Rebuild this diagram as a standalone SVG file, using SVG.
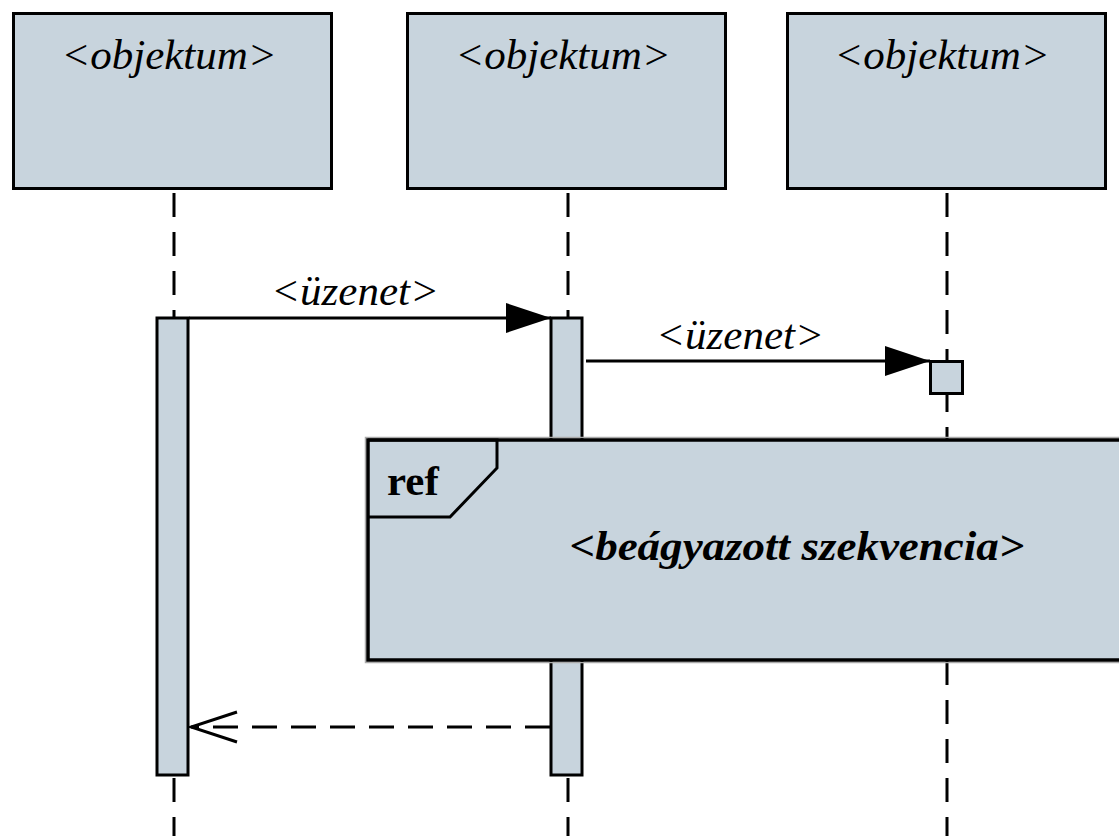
<svg xmlns="http://www.w3.org/2000/svg" width="1119" height="836" viewBox="0 0 1119 836">
<style>
.box{fill:#c8d4dd;stroke:#000;stroke-width:3}
.life{stroke:#000;stroke-width:3;stroke-dasharray:24 15;fill:none}
.msg{stroke:#000;stroke-width:3;fill:none}
.ret{stroke:#000;stroke-width:3;fill:none;stroke-dasharray:25 14}
text{font-family:'Liberation Serif','DejaVu Serif',serif;font-size:43px;fill:#000}
.t{font-style:italic}
.b{font-weight:bold}
.bi{font-weight:bold;font-style:italic}
</style>
<defs>
<marker id="filled" markerUnits="userSpaceOnUse" markerWidth="46" markerHeight="32" refX="45" refY="16" orient="auto">
<path d="M0,1 L45,16 L0,31 Z" fill="#000"/>
</marker>
<marker id="open" markerUnits="userSpaceOnUse" markerWidth="52" markerHeight="36" refX="49" refY="18" orient="auto">
<path d="M3,3 L49,18 L3,33" fill="none" stroke="#000" stroke-width="3"/>
</marker>
</defs>
<g id="lifelines">
<line class="life" x1="174" y1="193" x2="174" y2="836"/>
<line class="life" x1="568" y1="193" x2="568" y2="836"/>
<line class="life" x1="947" y1="193" x2="947" y2="836"/>
</g>
<g id="obj1"><rect class="box" x="13.5" y="13.5" width="318" height="175"/><text class="t" x="169" y="69" text-anchor="middle">&lt;objektum&gt;</text></g>
<g id="obj2"><rect class="box" x="407.5" y="13.5" width="318" height="175"/><text class="t" x="563" y="69" text-anchor="middle">&lt;objektum&gt;</text></g>
<g id="obj3"><rect class="box" x="787.5" y="13.5" width="318" height="175"/><text class="t" x="942" y="69" text-anchor="middle">&lt;objektum&gt;</text></g>
<g id="act1"><rect class="box" x="157" y="318" width="31" height="457"/></g>
<g id="act2"><rect class="box" x="551" y="318" width="31" height="457"/></g>
<g id="act3"><rect class="box" x="930.5" y="361.5" width="32" height="32"/></g>
<g id="connectors">
<line class="msg" x1="189" y1="318" x2="551" y2="318" marker-end="url(#filled)"/>
<text class="t" x="355" y="305" text-anchor="middle">&lt;üzenet&gt;</text>
<line class="msg" x1="586" y1="361" x2="930" y2="361" marker-end="url(#filled)"/>
<text class="t" x="740" y="349" text-anchor="middle">&lt;üzenet&gt;</text>
<line class="ret" x1="550" y1="727" x2="191" y2="727" marker-end="url(#open)"/>
</g>
<g id="ref">
<rect x="365.5" y="437.5" width="760" height="225" fill="none" stroke="#aaa" stroke-width="1.5"/>
<rect x="368" y="440" width="760" height="220" fill="#c8d4dd" stroke="#000" stroke-width="3.5"/>
<path d="M368,440 L497,440 L497,468 L450,517 L368,517" fill="none" stroke="#000" stroke-width="3"/>
<text class="b" x="387" y="495">ref</text>
<text class="bi" x="797" y="560" text-anchor="middle" textLength="455" lengthAdjust="spacingAndGlyphs">&lt;beágyazott szekvencia&gt;</text>
</g>
</svg>
